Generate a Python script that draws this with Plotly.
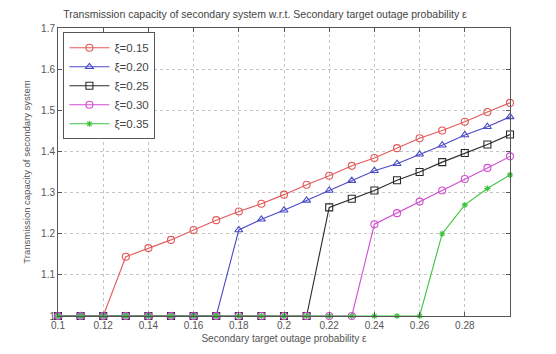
import plotly.graph_objects as go

# Secondary target outage probability (x axis)
eps = [0.10, 0.11, 0.12, 0.13, 0.14, 0.15, 0.16, 0.17, 0.18, 0.19, 0.20,
       0.21, 0.22, 0.23, 0.24, 0.25, 0.26, 0.27, 0.28, 0.29, 0.30]

# Transmission capacity of the secondary system for each xi
cap_015 = [1.0, 1.0, 1.0, 1.144, 1.165, 1.185, 1.209, 1.233, 1.254, 1.273, 1.295,
           1.319, 1.341, 1.365, 1.384, 1.408, 1.432, 1.451, 1.472, 1.496, 1.518]
cap_020 = [1.0, 1.0, 1.0, 1.0, 1.0, 1.0, 1.0, 1.0, 1.209, 1.235, 1.257,
           1.281, 1.305, 1.329, 1.353, 1.370, 1.393, 1.415, 1.440, 1.460, 1.484]
cap_025 = [1.0, 1.0, 1.0, 1.0, 1.0, 1.0, 1.0, 1.0, 1.0, 1.0, 1.0,
           1.0, 1.264, 1.285, 1.305, 1.330, 1.350, 1.374, 1.396, 1.417, 1.441]
cap_030 = [1.0, 1.0, 1.0, 1.0, 1.0, 1.0, 1.0, 1.0, 1.0, 1.0, 1.0,
           1.0, 1.0, 1.0, 1.223, 1.250, 1.278, 1.305, 1.333, 1.360, 1.388]
cap_035 = [1.0, 1.0, 1.0, 1.0, 1.0, 1.0, 1.0, 1.0, 1.0, 1.0, 1.0,
           1.0, 1.0, 1.0, 1.0, 1.0, 1.0, 1.200, 1.270, 1.310, 1.343]

series_names = ["ξ=0.15", "ξ=0.20", "ξ=0.25", "ξ=0.30", "ξ=0.35"]
series_values = [cap_015, cap_020, cap_025, cap_030, cap_035]
series_colors = ["#e25a5a", "#4a4ac8", "#2a2a2a", "#d24ed2", "#3cc43c"]
series_symbols = ["circle-open", "triangle-up-open", "square-open", "circle-open", "asterisk-open"]
series_sizes = [7, 7, 7, 7, 5]

x_tickvals = [0.10, 0.12, 0.14, 0.16, 0.18, 0.20, 0.22, 0.24, 0.26, 0.28]
x_ticktext = ["0.1", "0.12", "0.14", "0.16", "0.18", "0.2", "0.22", "0.24", "0.26", "0.28"]
y_tickvals = [1.0, 1.1, 1.2, 1.3, 1.4, 1.5, 1.6, 1.7]
y_ticktext = ["1", "1.1", "1.2", "1.3", "1.4", "1.5", "1.6", "1.7"]

font_family = "Liberation Sans, Arial, sans-serif"

fig = go.Figure()
for name, vals, col, sym, sz in zip(series_names, series_values, series_colors,
                                    series_symbols, series_sizes):
    fig.add_trace(go.Scatter(
        x=eps, y=vals, name=name, mode="lines+markers",
        line=dict(color=col, width=1.1),
        marker=dict(symbol=sym, size=sz, color=col, line=dict(color=col, width=1.1)),
        cliponaxis=False,
    ))

axis_common = dict(
    showline=True, linecolor="#555", linewidth=1, mirror="ticks",
    ticks="inside", ticklen=4, tickcolor="#555",
    showgrid=True, gridcolor="#c4c4c4", griddash="dot", gridwidth=1,
    zeroline=False,
    tickfont=dict(family=font_family, size=10, color="#555"),
)

fig.update_xaxes(range=[0.1, 0.3], tickvals=x_tickvals, ticktext=x_ticktext,
                 title=dict(text="Secondary target outage probability ε",
                            font=dict(family=font_family, size=10, color="#555"),
                            standoff=4),
                 **axis_common)
fig.update_yaxes(range=[1.0, 1.7], tickvals=y_tickvals, ticktext=y_ticktext,
                 title=dict(text="Transmission capacity of secondary system",
                            font=dict(family=font_family, size=9.5, color="#555"),
                            standoff=8),
                 **axis_common)

fig.update_layout(
    width=556, height=354,
    margin=dict(l=58, r=46, t=28, b=34),
    paper_bgcolor="white", plot_bgcolor="white",
    title=dict(text="Transmission capacity of secondary system w.r.t. Secondary target outage probability ε",
               x=265 / 556, xanchor="center", y=1 - 14 / 354, yanchor="middle",
               font=dict(family=font_family, size=10.5, color="#444")),
    legend=dict(x=0.012, y=0.985, xanchor="left", yanchor="top",
                bgcolor="white", bordercolor="#555", borderwidth=1,
                font=dict(family=font_family, size=11.5, color="#444"),
                tracegroupgap=0, itemwidth=40),
    showlegend=True,
)

fig.write_html("out.html")
